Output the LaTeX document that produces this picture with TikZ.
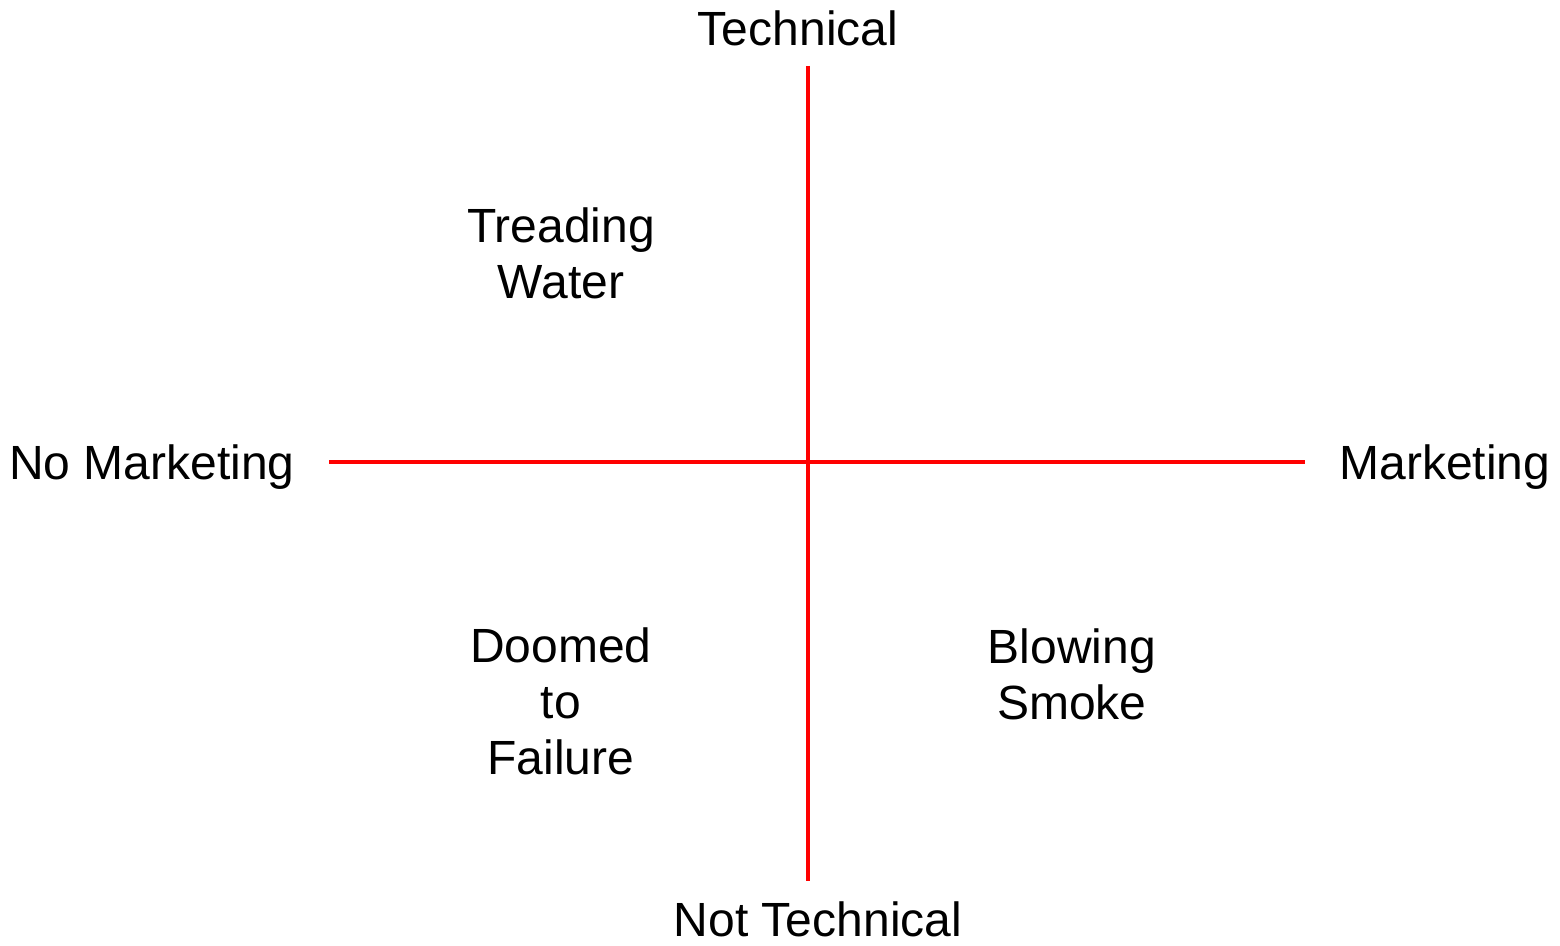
\documentclass[tikz,border=0pt]{standalone}
\usepackage{fontspec}
\setmainfont{Liberation Sans}
\begin{document}
\begin{tikzpicture}[x=0.5pt,y=-0.5pt,
  axis/.style={draw=red,line width=2.2pt},
  label/.style={font=\fontsize{24}{28}\selectfont,align=center,inner sep=0pt}]
\useasboundingbox (0,0) rectangle (1560,946);
% axis end points
\coordinate (top) at (808,66);
\coordinate (bottom) at (808,881);
\coordinate (left) at (329,462);
\coordinate (right) at (1305,462);
\draw[axis] (left) -- (right);
\draw[axis] (top) -- (bottom);
% axis labels
\node[label] (tech) at (798,28) {Technical};
\node[label] (nottech) at (818,919) {Not Technical};
\node[label] (nomkt) at (152,467) {No Marketing};
\node[label] (mkt) at (1445,467) {Marketing};
% quadrant labels
\node[label] (tread) at (561,253) {Treading\\Water};
\node[label] (doom) at (561,701) {Doomed\\to\\Failure};
\node[label] (smoke) at (1072,674) {Blowing\\Smoke};
\end{tikzpicture}
\end{document}
